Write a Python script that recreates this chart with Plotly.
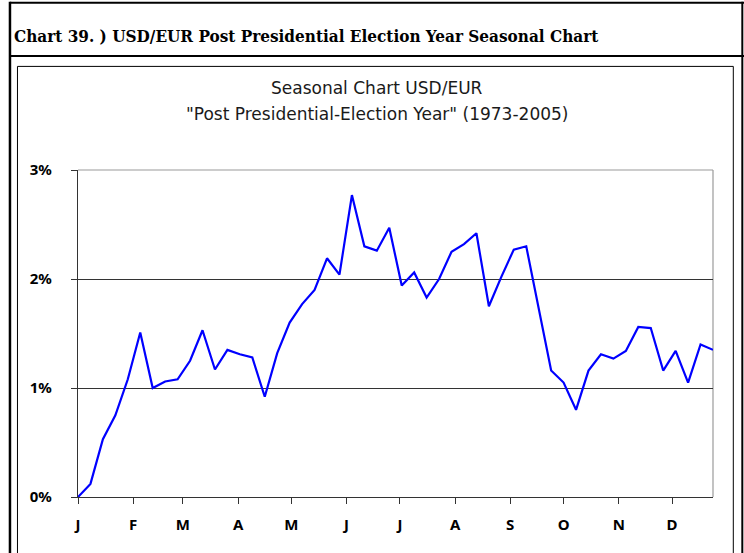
import plotly.graph_objects as go

# ---- data ----
weekly_return_pct = [
    0.00, 0.12, 0.53, 0.75, 1.08, 1.51, 1.00, 1.06, 1.08, 1.25,
    1.53, 1.17, 1.35, 1.31, 1.28, 0.92, 1.32, 1.60, 1.77, 1.90,
    2.19, 2.04, 2.77, 2.30, 2.26, 2.47, 1.94, 2.06, 1.83, 2.00,
    2.25, 2.32, 2.42, 1.75, 2.02, 2.27, 2.30, 1.72, 1.16, 1.05,
    0.80, 1.16, 1.31, 1.27, 1.34, 1.56, 1.55, 1.16, 1.34, 1.05,
    1.40, 1.35,
]
days_per_week = 7
month_labels = ["J", "F", "M", "A", "M", "J", "J", "A", "S", "O", "N", "D"]
month_start_day = [0, 31, 59, 90, 120, 151, 181, 212, 243, 273, 304, 334]
y_tick_vals = [0, 1, 2, 3]
y_tick_text = ["0%", "1%", "2%", "3%"]

x_days = [i * days_per_week for i in range(len(weekly_return_pct))]

# ---- layout geometry (pixels) ----
W, H = 744, 553
L, R, T, B = 78, 712.7, 170, 496.7


def px(xp):
    return (xp - L) / (R - L)


def py(yp):
    return (B - yp) / (B - T)


fig = go.Figure()
fig.add_trace(go.Scatter(
    x=x_days, y=weekly_return_pct, mode="lines",
    line=dict(color="#0000FF", width=2.2),
    hoverinfo="skip", showlegend=False,
))

shapes = []
# outer frame and header separator
shapes.append(dict(type="line", xref="paper", yref="paper",
                   x0=px(10), x1=px(744), y0=py(3), y1=py(3),
                   line=dict(color="black", width=2)))
shapes.append(dict(type="line", xref="paper", yref="paper",
                   x0=px(10), x1=px(10), y0=py(2), y1=py(553),
                   line=dict(color="black", width=2.5)))
shapes.append(dict(type="line", xref="paper", yref="paper",
                   x0=px(10), x1=px(744), y0=py(56), y1=py(56),
                   line=dict(color="black", width=2)))
shapes.append(dict(type="line", xref="paper", yref="paper",
                   x0=px(742), x1=px(742), y0=py(2), y1=py(553),
                   line=dict(color="black", width=2)))
# inner chart box
shapes.append(dict(type="rect", xref="paper", yref="paper",
                   x0=px(17.5), x1=px(733), y0=py(66.5), y1=py(560),
                   line=dict(color="black", width=1)))
# plot-area border (top and right gray)
shapes.append(dict(type="line", xref="paper", yref="paper",
                   x0=0, x1=1, y0=1, y1=1, layer="below",
                   line=dict(color="#9a9a9a", width=1.2)))
shapes.append(dict(type="line", xref="paper", yref="paper",
                   x0=1, x1=1, y0=0, y1=1, layer="below",
                   line=dict(color="#9a9a9a", width=1.2)))

annotations = [
    dict(text="Chart 39. ) USD/EUR Post Presidential Election Year Seasonal Chart",
         xref="paper", yref="paper", x=px(12), y=py(36),
         xanchor="left", yanchor="middle", showarrow=False,
         font=dict(family="DejaVu Serif Condensed", size=17, color="black",
                   weight="bold")),
    dict(text="Seasonal Chart USD/EUR",
         xref="paper", yref="paper", x=px(377), y=py(88),
         xanchor="center", yanchor="middle", showarrow=False,
         font=dict(family="DejaVu Sans", size=17, color="#1a1a1a")),
    dict(text="\"Post Presidential-Election Year\" (1973-2005)",
         xref="paper", yref="paper", x=px(377), y=py(114),
         xanchor="center", yanchor="middle", showarrow=False,
         font=dict(family="DejaVu Sans", size=17, color="#1a1a1a")),
]

fig.update_layout(
    width=W, height=H,
    margin=dict(l=L, r=W - R, t=T, b=H - B, pad=0),
    paper_bgcolor="white", plot_bgcolor="white",
    shapes=shapes, annotations=annotations,
    xaxis=dict(
        range=[0, x_days[-1]], tickmode="array",
        tickvals=month_start_day, ticktext=month_labels,
        ticks="outside", ticklen=6, tickcolor="#333333", tickwidth=1,
        showgrid=False, zeroline=False,
        showline=True, linecolor="#333333", linewidth=1.2,
        tickfont=dict(family="Noto Sans", size=15, color="black", weight="bold"),
        ticklabelstandoff=8,
    ),
    yaxis=dict(
        range=[0, 3], tickmode="array",
        tickvals=y_tick_vals, ticktext=y_tick_text,
        ticks="outside", ticklen=6, tickcolor="#333333", tickwidth=1,
        showgrid=True, gridcolor="#333333", gridwidth=1.2,
        zeroline=False,
        showline=True, linecolor="#333333", linewidth=1.2,
        tickfont=dict(family="Noto Sans", size=15, color="black", weight="bold"),
        ticklabelstandoff=16,
    ),
)

fig.write_html("out.html",
               config={"displayModeBar": False},
               post_script="document.body.style.margin='0';")
